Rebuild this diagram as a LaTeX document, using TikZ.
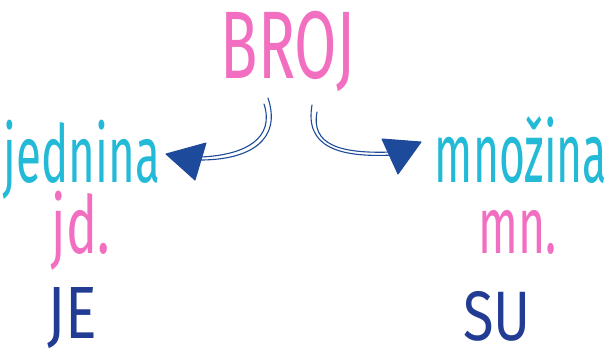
\documentclass[tikz,border=0pt]{standalone}
\usepackage{fontspec}
\setmainfont{Fira Sans}
\usepackage{graphicx}
\definecolor{pinkc}{HTML}{F26EC0}
\definecolor{cyanc}{HTML}{22BAD6}
\definecolor{bluec}{HTML}{223C94}
\definecolor{arrowc}{HTML}{1D4A9A}
\tikzset{
  word/.style={anchor=base, inner sep=0pt},
  shaft/.style={draw=arrowc, line width=1.1pt, line cap=round},
  head/.style={fill=arrowc, draw=arrowc, line width=1pt, line join=round}
}
\begin{document}
\begin{tikzpicture}[x=1pt,y=-1pt]
\useasboundingbox (0,0) rectangle (612,349);
% texts
\node[word, text=pinkc] (broj) at (288,78) {\fontsize{96}{96}\selectfont\scalebox{0.64}[1]{BROJ}};
\node[word, text=cyanc, text depth=0pt] (jed) at (82,182) {\fontsize{80}{80}\selectfont\scalebox{0.57}[1]{jednina}};
\node[word, text=pinkc, text height=58pt] (jd) at (81,253) {\fontsize{80}{80}\selectfont\scalebox{0.65}[1]{jd.}};
\node[word, text=bluec, text depth=0pt] (je) at (72,338) {\fontsize{74}{74}\selectfont\scalebox{0.8}[1]{JE}};
\node[word, text=cyanc, text depth=0pt] (mno) at (521,182) {\fontsize{84}{84}\selectfont\scalebox{0.53}[1]{množina}};
\node[word, text=pinkc, text height=42pt] (mn) at (518,253) {\fontsize{80}{80}\selectfont\scalebox{0.58}[1]{mn.}};
\node[word, text=bluec, text depth=0pt] (su) at (497,340) {\fontsize{70}{70}\selectfont\scalebox{0.8}[1]{SU}};
% arrow coordinates
\coordinate (l1s) at (268,98);
\coordinate (l2s) at (264,104);
\coordinate (le) at (200,160);
\coordinate (r1s) at (312,105);
\coordinate (r2s) at (317,112);
\coordinate (re) at (393,155);
% left arrow
\draw[shaft] (l1s) .. controls (282,140) and (250,160) .. (le);
\draw[shaft] (l2s) .. controls (275,138) and (246,155) .. (201,157);
\fill[head] (166,154) -- (206,143) -- (195,180) -- cycle;
% right arrow
\draw[shaft] (r1s) .. controls (305,145) and (335,158) .. (re);
\draw[shaft] (r2s) .. controls (311,144) and (338,154) .. (392,152);
\fill[head] (382,139) -- (421,142) -- (398,174) -- cycle;
\end{tikzpicture}
\end{document}
